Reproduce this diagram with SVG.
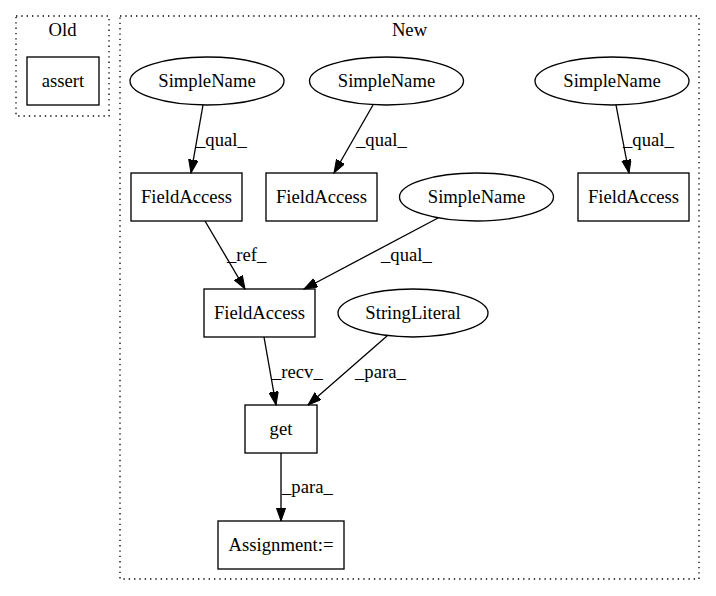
<svg xmlns="http://www.w3.org/2000/svg" width="716" height="596" viewBox="0 0 716 596">
  <style>
    text { font-family: "Liberation Serif", "Times New Roman", serif; font-size: 18.67px; fill: #000; }
    .node text, .cluster text { text-anchor: middle; }
    .box, .oval { fill: none; stroke: #000; stroke-width: 1.33; }
    .cluster rect { fill: none; stroke: #000; stroke-width: 1.33; stroke-dasharray: 1.33,4; }
    .edge { fill: none; stroke: #000; stroke-width: 1.33; marker-end: url(#arrow); }
  </style>
  <defs>
    <marker id="arrow" markerUnits="userSpaceOnUse" markerWidth="14" markerHeight="10" refX="13.3" refY="4.7" orient="auto">
      <path d="M0,0 L13.3,4.7 L0,9.4 z" fill="#000" stroke="#000" stroke-width="1"/>
    </marker>
  </defs>
  <rect width="716" height="596" fill="#fff"/>

  <!-- clusters -->
  <g class="cluster" id="cluster_old">
    <rect x="16" y="16" width="93" height="100"/>
    <text x="62.5" y="36">Old</text>
  </g>
  <g class="cluster" id="cluster_new">
    <rect x="120" y="16" width="579" height="563"/>
    <text x="409.5" y="36">New</text>
  </g>

  <!-- nodes -->
  <g class="node" id="assert">
    <rect class="box" x="27" y="57" width="72" height="48"/>
    <text x="63" y="87">assert</text>
  </g>
  <g class="node" id="simplename1">
    <ellipse class="oval" cx="207" cy="81" rx="77" ry="24"/>
    <text x="207" y="87">SimpleName</text>
  </g>
  <g class="node" id="simplename2">
    <ellipse class="oval" cx="386.5" cy="81" rx="77" ry="24"/>
    <text x="386.5" y="87">SimpleName</text>
  </g>
  <g class="node" id="simplename3">
    <ellipse class="oval" cx="612" cy="81" rx="77" ry="24"/>
    <text x="612" y="87">SimpleName</text>
  </g>
  <g class="node" id="fieldaccess1">
    <rect class="box" x="131" y="173" width="111" height="48"/>
    <text x="186.5" y="203">FieldAccess</text>
  </g>
  <g class="node" id="fieldaccess2">
    <rect class="box" x="266" y="173" width="111" height="48"/>
    <text x="321.5" y="203">FieldAccess</text>
  </g>
  <g class="node" id="fieldaccess3">
    <rect class="box" x="578" y="173" width="111" height="48"/>
    <text x="633.5" y="203">FieldAccess</text>
  </g>
  <g class="node" id="simplename4">
    <ellipse class="oval" cx="476.5" cy="197" rx="77" ry="24"/>
    <text x="476.5" y="203">SimpleName</text>
  </g>
  <g class="node" id="fieldaccess4">
    <rect class="box" x="204" y="289" width="111" height="48"/>
    <text x="259.5" y="319">FieldAccess</text>
  </g>
  <g class="node" id="stringliteral">
    <ellipse class="oval" cx="413" cy="313" rx="75" ry="24"/>
    <text x="413" y="319">StringLiteral</text>
  </g>
  <g class="node" id="get">
    <rect class="box" x="245" y="405" width="72" height="48"/>
    <text x="281" y="435">get</text>
  </g>
  <g class="node" id="assignment">
    <rect class="box" x="218" y="521" width="126" height="48"/>
    <text x="281" y="551">Assignment:=</text>
  </g>

  <!-- connectors -->
  <g id="edges">
    <path class="edge" d="M203,105 L191,173"/>
    <text x="196" y="146">_qual_</text>

    <path class="edge" d="M373,105 L334,173"/>
    <text x="356" y="146">_qual_</text>

    <path class="edge" d="M616,105 L629,173"/>
    <text x="623" y="146">_qual_</text>

    <path class="edge" d="M205,221 L245,289"/>
    <text x="227" y="261">_ref_</text>

    <path class="edge" d="M438,218 L304,289"/>
    <text x="381" y="261">_qual_</text>

    <path class="edge" d="M264,337 L276,405"/>
    <text x="272" y="378">_recv_</text>

    <path class="edge" d="M387,336 L308,405"/>
    <text x="355" y="378">_para_</text>

    <path class="edge" d="M281,453 L281,521"/>
    <text x="282" y="493">_para_</text>
  </g>
</svg>
